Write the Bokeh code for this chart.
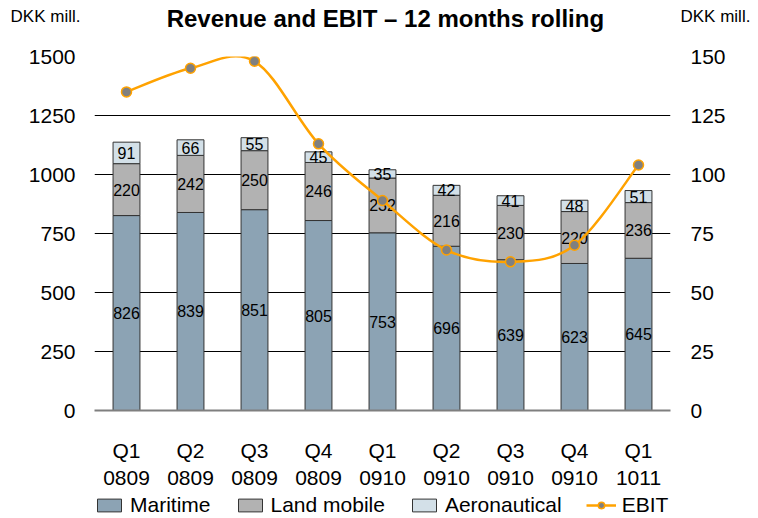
from bokeh.plotting import figure
from bokeh.models import (Range1d, LinearAxis, FixedTicker, ColumnDataSource,
                          Legend, LegendItem)
from bokeh.layouts import column
from bokeh.core.properties import value
from bokeh.embed import file_html
from bokeh.resources import INLINE

# ---- data ----
quarters = ["Q1\n0809", "Q2\n0809", "Q3\n0809", "Q4\n0809", "Q1\n0910",
            "Q2\n0910", "Q3\n0910", "Q4\n0910", "Q1\n1011"]
maritime = [826, 839, 851, 805, 753, 696, 639, 623, 645]
land_mobile = [220, 242, 250, 246, 232, 216, 230, 220, 236]
aeronautical = [91, 66, 55, 45, 35, 42, 41, 48, 51]
ebit = [135, 145, 148, 113, 89, 68, 63, 70, 104]
left_ticks = [0, 250, 500, 750, 1000, 1250, 1500]
right_ticks = [0, 25, 50, 75, 100, 125, 150]
series_names = ["Maritime", "Land mobile", "Aeronautical", "EBIT"]
title_text = "Revenue and EBIT \u2013 12 months rolling"
unit_text = "DKK mill."

FONT = "Liberation Sans"
C_MAR = "#8ca3b4"
C_LAND = "#b2b2b2"
C_AERO = "#d3e0e8"
C_EBIT = "#ffa200"
C_EDGE = "#333333"

W_FIG = 758
BL, BR = 94, 88
H_HEAD, H_MAIN, H_FOOT = 40, 452, 26

n = len(quarters)
xs = list(range(n))


def plain(fig):
    fig.outline_line_color = None
    fig.grid.grid_line_color = None
    fig.background_fill_color = "white"
    fig.border_fill_color = "white"
    fig.min_border_top = 0
    fig.min_border_bottom = 0
    fig.min_border_left = BL
    fig.min_border_right = BR
    return fig


def style_axis(ax, size, standoff):
    ax.axis_line_color = None
    ax.major_tick_line_color = None
    ax.minor_tick_line_color = None
    ax.major_tick_out = 0
    ax.major_tick_in = 0
    ax.major_label_standoff = standoff
    ax.major_label_text_font = FONT
    ax.major_label_text_font_size = size
    ax.major_label_text_color = "#000000"


# ---------- header: title + unit captions ----------
head = plain(figure(width=W_FIG, height=H_HEAD, output_backend="svg", toolbar_location=None,
                    x_range=Range1d(0, 1), y_range=Range1d(0, 1),
                    x_axis_location=None, y_axis_location=None))
for side, so in (("left", 14), ("right", 10)):
    ax = LinearAxis(ticker=FixedTicker(ticks=[0.6]),
                    major_label_overrides={0.6: unit_text})
    style_axis(ax, "17px", so)
    head.add_layout(ax, side)
head.text(x=[0.505], y=[0.55], text=[title_text], text_align="center",
          text_baseline="middle", text_font=value(FONT), text_font_size="24px",
          text_font_style="bold", text_color="#000000")

# ---------- main chart ----------
p = figure(width=W_FIG, height=H_MAIN, output_backend="svg", toolbar_location=None,
           x_range=Range1d(-0.5, n - 0.5), y_range=Range1d(0, 1500),
           min_border_left=BL, min_border_right=BR, min_border_top=16,
           min_border_bottom=80)
p.extra_y_ranges = {"ebit": Range1d(0, 150)}
p.outline_line_color = None
p.background_fill_color = "white"
p.border_fill_color = "white"

p.yaxis.ticker = FixedTicker(ticks=left_ticks)
p.xaxis.ticker = FixedTicker(ticks=xs)
p.xaxis.major_label_overrides = {i: q for i, q in enumerate(quarters)}
style_axis(p.yaxis[0], "21px", 19)
style_axis(p.xaxis[0], "21px", 28)
p.xaxis.axis_line_color = "#7f7f7f"
p.xaxis.axis_line_width = 2

raxis = LinearAxis(y_range_name="ebit", ticker=FixedTicker(ticks=right_ticks))
style_axis(raxis, "21px", 20)
p.add_layout(raxis, "right")

p.xgrid.grid_line_color = None
p.ygrid.grid_line_color = "#000000"
p.ygrid.grid_line_width = 1

bottom3 = [m + l for m, l in zip(maritime, land_mobile)]
top3 = [b + a for b, a in zip(bottom3, aeronautical)]
src = ColumnDataSource(dict(x=xs, mar=maritime, b2=maritime, t2=bottom3,
                            b3=bottom3, t3=top3))
W = 0.42
p.vbar(x="x", bottom=0, top="mar", width=W, source=src, fill_color=C_MAR,
       line_color=C_EDGE, line_width=1)
p.vbar(x="x", bottom="b2", top="t2", width=W, source=src, fill_color=C_LAND,
       line_color=C_EDGE, line_width=1)
p.vbar(x="x", bottom="b3", top="t3", width=W, source=src, fill_color=C_AERO,
       line_color=C_EDGE, line_width=1)

lab_x, lab_y, lab_t = [], [], []
for i in range(n):
    lab_x += [i, i, i]
    lab_y += [maritime[i] / 2, maritime[i] + land_mobile[i] / 2,
              bottom3[i] + aeronautical[i] / 2]
    lab_t += [str(maritime[i]), str(land_mobile[i]), str(aeronautical[i])]
p.text(x=lab_x, y=lab_y, text=lab_t, text_align="center", text_baseline="middle",
       text_font_size="16px", text_color="#000000", text_font=value(FONT))

# EBIT smoothed line: cubic bezier segments through the data points
x0s, y0s, x1s, y1s, cx0, cy0, cx1, cy1 = [], [], [], [], [], [], [], []
for i in range(n - 1):
    ip = max(i - 1, 0)
    inn = min(i + 2, n - 1)
    x0s.append(xs[i]); y0s.append(ebit[i])
    x1s.append(xs[i + 1]); y1s.append(ebit[i + 1])
    cx0.append(xs[i] + (xs[i + 1] - xs[ip]) / 6)
    cy0.append(ebit[i] + (ebit[i + 1] - ebit[ip]) / 6)
    cx1.append(xs[i + 1] - (xs[inn] - xs[i]) / 6)
    cy1.append(ebit[i + 1] - (ebit[inn] - ebit[i]) / 6)
p.bezier(x0=x0s, y0=y0s, x1=x1s, y1=y1s, cx0=cx0, cy0=cy0, cx1=cx1, cy1=cy1,
         line_color=C_EBIT, line_width=2.5, y_range_name="ebit")
p.scatter(x=xs, y=ebit, size=10, fill_color="#808080", line_color=C_EBIT,
          line_width=1.5, y_range_name="ebit")

# ---------- legend strip ----------
foot = plain(figure(width=W_FIG, height=H_FOOT, output_backend="svg", toolbar_location=None,
                    x_range=Range1d(0, 1), y_range=Range1d(0, 1),
                    x_axis_location=None, y_axis_location=None))
off = [-5]
g1 = foot.vbar(x=off, top=off, width=0.1, fill_color=C_MAR, line_color=C_EDGE)
g2 = foot.vbar(x=off, top=off, width=0.1, fill_color=C_LAND, line_color=C_EDGE)
g3 = foot.vbar(x=off, top=off, width=0.1, fill_color=C_AERO, line_color=C_EDGE)
g4 = foot.line(x=off, y=off, line_color=C_EBIT, line_width=2.5)
g5 = foot.scatter(x=off, y=off, size=8, fill_color="#808080", line_color=C_EBIT,
                  line_width=1.5)
legend = Legend(items=[
    LegendItem(label=series_names[0], renderers=[g1]),
    LegendItem(label=series_names[1], renderers=[g2]),
    LegendItem(label=series_names[2], renderers=[g3]),
    LegendItem(label=series_names[3], renderers=[g4, g5]),
], orientation="horizontal", location=(0, 1))
legend.label_text_font = FONT
legend.label_text_font_size = "21px"
legend.label_text_color = "#000000"
legend.glyph_width = 30
legend.glyph_height = 16
legend.label_standoff = 6
legend.spacing = 24
legend.padding = 0
legend.margin = 0
legend.border_line_color = None
legend.background_fill_alpha = 0
foot.add_layout(legend, "center")

layout = column(head, p, foot, spacing=0)
open("out.html", "w").write(file_html(layout, INLINE))
